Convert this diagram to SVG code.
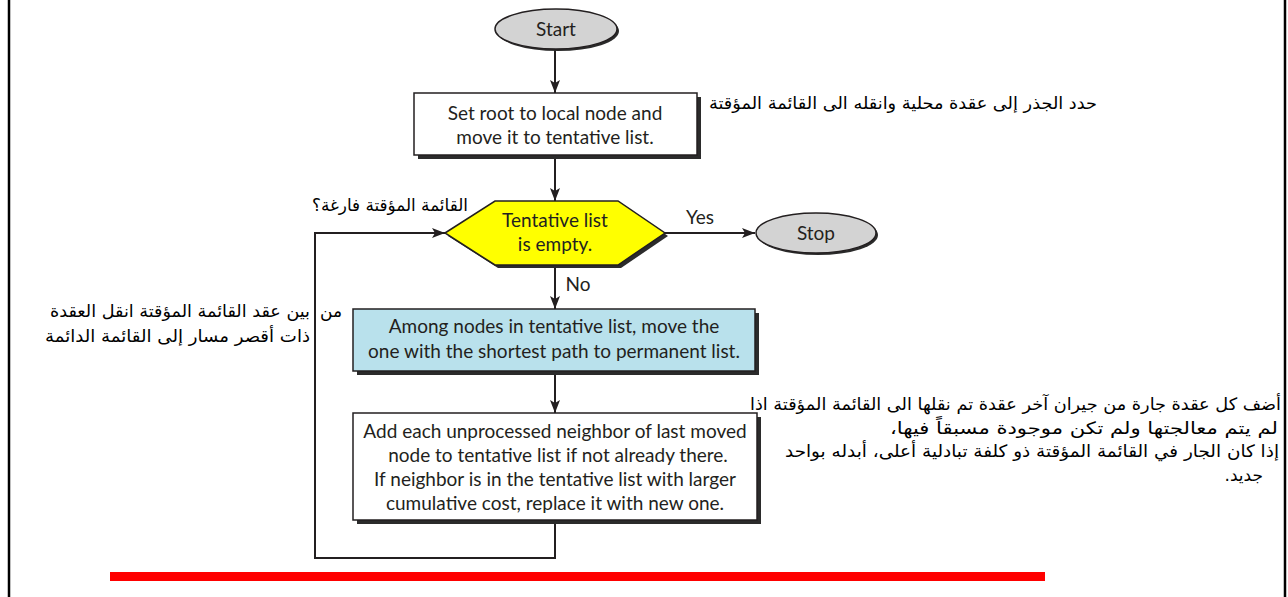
<svg xmlns="http://www.w3.org/2000/svg" width="1288" height="597" viewBox="0 0 1288 597">
<style>
.en{font-family:Lato,'Open Sans',sans-serif;font-size:19px;fill:#231f20;text-anchor:middle}
.ar{font-family:'DejaVu Sans',sans-serif;font-size:17px;fill:#000;text-anchor:end}
.conn{fill:none;stroke:#231f20;stroke-width:2}
.shadow{fill:#2b2b2b}
.box{stroke:#231f20;stroke-width:1.5}
</style>
<defs>
<marker id="arr" markerWidth="14" markerHeight="10" refX="13" refY="5" orient="auto" markerUnits="userSpaceOnUse">
<path d="M0,0 L13,5 L0,10 L3,5 z" fill="#231f20"/>
</marker>
</defs>
<rect x="0" y="0" width="1288" height="597" fill="#fff"/>
<line x1="9" y1="0" x2="9" y2="597" stroke="#000" stroke-width="2.5"/>
<line x1="1285" y1="0" x2="1285" y2="597" stroke="#000" stroke-width="2.5"/>
<g id="connectors">
<line class="conn" x1="555" y1="50" x2="555" y2="93" marker-end="url(#arr)"/>
<line class="conn" x1="555" y1="157" x2="555" y2="201" marker-end="url(#arr)"/>
<line class="conn" x1="665" y1="233" x2="755" y2="233" marker-end="url(#arr)"/>
<line class="conn" x1="555" y1="266" x2="555" y2="309" marker-end="url(#arr)"/>
<line class="conn" x1="555" y1="372" x2="555" y2="413" marker-end="url(#arr)"/>
<polyline class="conn" points="555,522 555,558 315,558 315,233 445,233" marker-end="url(#arr)"/>
<text class="en" x="700" y="224">Yes</text>
<text class="en" x="578" y="291">No</text>
</g>
<g id="start">
<ellipse class="shadow" cx="558" cy="31" rx="61" ry="20"/>
<ellipse class="box" cx="556" cy="29" rx="61" ry="20" fill="#d3d3d3"/>
<text class="en" x="556" y="36">Start</text>
</g>
<g id="setroot">
<rect class="shadow" x="418" y="97" width="283" height="62"/>
<rect class="box" x="414" y="93" width="283" height="62" fill="#fff"/>
<text class="en" x="555" y="120">Set root to local node and</text>
<text class="en" x="555" y="144">move it to tentative list.</text>
</g>
<g id="decision">
<polygon class="shadow" points="448,236 498,204 621,204 668,236 621,268 498,268"/>
<polygon class="box" points="445,233 495,201 618,201 665,233 618,265 495,265" fill="#ffff00"/>
<text class="en" x="555" y="227">Tentative list</text>
<text class="en" x="555" y="251">is empty.</text>
</g>
<g id="stop">
<ellipse class="shadow" cx="818" cy="235" rx="60" ry="20"/>
<ellipse class="box" cx="816" cy="233" rx="60" ry="20" fill="#d3d3d3"/>
<text class="en" x="816" y="240">Stop</text>
</g>
<g id="move">
<rect class="shadow" x="357" y="313" width="402" height="62"/>
<rect class="box" x="353" y="309" width="402" height="62" fill="#b9e1ec"/>
<text class="en" x="554" y="333">Among nodes in tentative list, move the</text>
<text class="en" x="554" y="358">one with the shortest path to permanent list.</text>
</g>
<g id="add">
<rect class="shadow" x="357" y="417" width="404" height="107"/>
<rect class="box" x="353" y="413" width="404" height="107" fill="#fff"/>
<text class="en" x="555" y="438">Add each unprocessed neighbor of last moved</text>
<text class="en" x="558" y="462">node to tentative list if not already there.</text>
<text class="en" x="555" y="486">If neighbor is in the tentative list with larger</text>
<text class="en" x="555" y="510">cumulative cost, replace it with new one.</text>
</g>
<g id="notes">
<text class="ar" x="1097" y="109" textLength="388" lengthAdjust="spacingAndGlyphs">حدد الجذر إلى عقدة محلية وانقله الى القائمة المؤقتة</text>
<text class="ar" x="468" y="211" textLength="156" lengthAdjust="spacingAndGlyphs">القائمة المؤقتة فارغة؟</text>
<text class="ar" x="342" y="317">من</text>
<text class="ar" x="310" y="317" textLength="260" lengthAdjust="spacingAndGlyphs">بين عقد القائمة المؤقتة انقل العقدة</text>
<text class="ar" x="310" y="342" textLength="265" lengthAdjust="spacingAndGlyphs">ذات أقصر مسار إلى القائمة الدائمة</text>
<text class="ar" x="1281" y="410" textLength="531" lengthAdjust="spacingAndGlyphs">أضف كل عقدة جارة من جيران آخر عقدة تم نقلها الى القائمة المؤقتة اذا</text>
<text class="ar" x="1278" y="434" textLength="388" lengthAdjust="spacingAndGlyphs">لم يتم معالجتها ولم تكن موجودة مسبقاً فيها،&#x200F;</text>
<text class="ar" x="1279" y="457" textLength="494" lengthAdjust="spacingAndGlyphs">إذا كان الجار في القائمة المؤقتة ذو كلفة تبادلية أعلى، أبدله بواحد</text>
<text class="ar" x="1263" y="481">جديد.&#x200F;</text>
</g>
<rect x="110" y="572" width="935" height="9" fill="#ff0000"/>
</svg>
